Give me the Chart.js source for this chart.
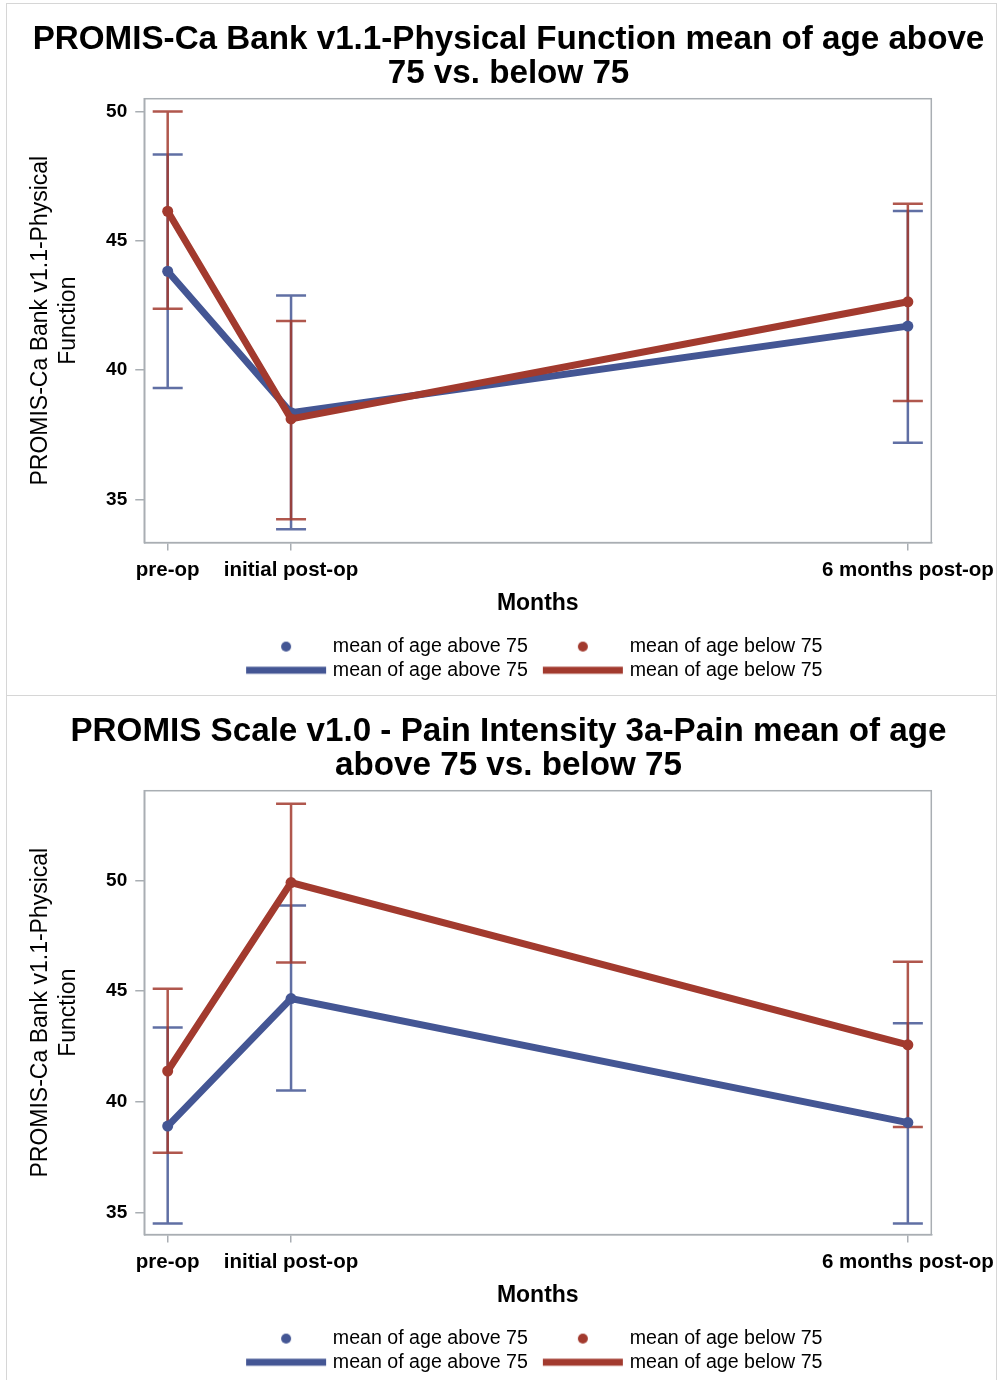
<!DOCTYPE html>
<html>
<head>
<meta charset="utf-8">
<script src="https://cdn.jsdelivr.net/npm/chart.js@4"></script>
<style>
  body { margin: 0; background: #fff; overflow: hidden; }
  .panel { position: absolute; left: 6px; width: 991px; border: 1px solid #d6d6d6; box-sizing: border-box; background: #fff; overflow: hidden; }
  #p1 { top: 3px; height: 693px; }
  #p2 { top: 695px; height: 697px; }
  canvas { display: block; }
</style>
</head>
<body>
<div class="panel" id="p1"><canvas id="chart1" width="994" height="691"></canvas></div>
<div class="panel" id="p2"><canvas id="chart2" width="994" height="691"></canvas></div>
<script>
// x positions are months after surgery
const months = [0, 1, 6];
const monthLabels = ['pre-op', 'initial post-op', '6 months post-op'];
const yTicks = [35, 40, 45, 50];

// Physical Function
const pfAbove = [43.82, 38.35, 41.70];
const pfAboveLow = [39.31, 33.85, 37.19];
const pfAboveHigh = [48.33, 42.88, 46.15];
const pfBelow = [46.14, 38.11, 42.64];
const pfBelowLow = [42.37, 34.23, 38.80];
const pfBelowHigh = [50.00, 41.90, 46.43];

// Pain Intensity
const painAbove = [38.90, 44.66, 39.06];
const painAboveLow = [34.50, 40.51, 34.50];
const painAboveHigh = [43.35, 48.86, 43.55];
const painBelow = [41.39, 49.90, 42.57];
const painBelowLow = [37.70, 46.29, 38.86];
const painBelowHigh = [45.10, 53.46, 46.33];

const BLUE = '#445694';
const RED = '#a23a2e';
const FONT = 'Liberation Sans, Arial, sans-serif';

// legend swatches (drawn as point style images)
function swatch(color, kind) {
  const c = document.createElement('canvas');
  c.width = 96; c.height = 12;
  const g = c.getContext('2d');
  g.fillStyle = color;
  if (kind === 'dot') {
    g.beginPath(); g.arc(55, 6, 5, 0, Math.PI * 2); g.fill();
  } else {
    g.fillRect(15, 2.5, 80, 7);
  }
  return c;
}

const errorBars = {
  id: 'errorBars',
  beforeDatasetsDraw(chart) {
    const {ctx, scales: {x, y}} = chart;
    ctx.save();
    chart.data.datasets.forEach(ds => {
      ctx.strokeStyle = ds.barColor;
      ctx.lineWidth = 2.5;
      ds.data.forEach((p, i) => {
        const px = x.getPixelForValue(p.x);
        const lo = y.getPixelForValue(ds.errLow[i]);
        const hi = y.getPixelForValue(ds.errHigh[i]);
        ctx.beginPath();
        ctx.moveTo(px, lo); ctx.lineTo(px, hi);
        ctx.moveTo(px - 15, lo); ctx.lineTo(px + 15, lo);
        ctx.moveTo(px - 15, hi); ctx.lineTo(px + 15, hi);
        ctx.stroke();
      });
    });
    ctx.restore();
  }
};

const plotFrame = {
  id: 'plotFrame',
  beforeDatasetsDraw(chart) {
    const {ctx, chartArea: a} = chart;
    ctx.save();
    ctx.strokeStyle = '#a9aeb3';
    ctx.lineWidth = 1.5;
    ctx.strokeRect(a.left, a.top, a.right - a.left, a.bottom - a.top);
    ctx.restore();
  }
};

// SAS centres the legend a little left of the plot centre
const legendShift = {
  id: 'legendShift',
  afterLayout(chart) {
    chart.legend.left -= 9;
    chart.legend.right -= 9;
  }
};

function pts(vals) {
  return months.map((m, i) => ({x: m, y: vals[i]}));
}

function makeChart(id, titleLines, above, aboveLow, aboveHigh, below, belowLow, belowHigh, yMin, yMax) {
  new Chart(document.getElementById(id), {
    type: 'line',
    data: {
      datasets: [
        {
          label: 'mean of age above 75',
          data: pts(above), errLow: aboveLow, errHigh: aboveHigh,
          borderColor: BLUE, backgroundColor: BLUE, barColor: 'rgba(68,86,148,0.85)',
          borderWidth: 7, pointRadius: 5.5, pointBorderWidth: 0, order: 2
        },
        {
          label: 'mean of age below 75',
          data: pts(below), errLow: belowLow, errHigh: belowHigh,
          borderColor: RED, backgroundColor: RED, barColor: 'rgba(162,58,46,0.85)',
          borderWidth: 7, pointRadius: 5.5, pointBorderWidth: 0, order: 1
        }
      ]
    },
    options: {
      responsive: false,
      animation: false,
      layout: { padding: { top: 0, left: 9, right: 0, bottom: 5 } },
      plugins: {
        title: {
          display: true, text: titleLines, color: '#000',
          font: { family: FONT, size: 33.2, weight: 'bold', lineHeight: 1.05 },
          padding: { top: 18, bottom: 7 }
        },
        legend: {
          position: 'bottom', fullSize: false,
          labels: {
            usePointStyle: true, pointStyleWidth: 88, padding: 4, color: '#222',
            font: { family: FONT, size: 19.6 },
            generateLabels: () => [
              { text: 'mean of age above 75', pointStyle: swatch(BLUE, 'dot'), fillStyle: BLUE, lineWidth: 0, hidden: false, datasetIndex: 0 },
              { text: 'mean of age below 75', pointStyle: swatch(RED, 'dot'), fillStyle: RED, lineWidth: 0, hidden: false, datasetIndex: 1 },
              { text: 'mean of age above 75', pointStyle: swatch(BLUE, 'line'), fillStyle: BLUE, lineWidth: 0, hidden: false, datasetIndex: 0 },
              { text: 'mean of age below 75', pointStyle: swatch(RED, 'line'), fillStyle: RED, lineWidth: 0, hidden: false, datasetIndex: 1 }
            ]
          }
        },
        tooltip: { enabled: false }
      },
      scales: {
        x: {
          type: 'linear', min: -0.19, max: 6.19,
          afterBuildTicks: s => { s.ticks = months.map(v => ({value: v})); },
          ticks: {
            autoSkip: false, maxRotation: 0, padding: 7, color: '#000',
            font: { family: FONT, size: 20.5, weight: 'bold' },
            callback: v => monthLabels[months.indexOf(v)]
          },
          grid: { drawOnChartArea: false, tickLength: 8, color: '#a9aeb3', lineWidth: 1.5 },
          border: { color: '#a9aeb3', width: 1.5 },
          title: {
            display: true, text: 'Months', color: '#000',
            font: { family: FONT, size: 23, weight: 'bold', lineHeight: 1.2 },
            padding: { top: 1, bottom: 15 }
          }
        },
        y: {
          min: yMin, max: yMax,
          afterBuildTicks: s => { s.ticks = yTicks.map(v => ({value: v})); },
          ticks: {
            padding: 8, color: '#000',
            font: { family: FONT, size: 19, weight: 'bold' }
          },
          grid: { drawOnChartArea: false, tickLength: 9, color: '#a9aeb3', lineWidth: 1.5 },
          border: { color: '#a9aeb3', width: 1.5 },
          title: {
            display: true, text: ['PROMIS-Ca Bank v1.1-Physical', 'Function'], color: '#000',
            font: { family: FONT, size: 23, lineHeight: 1.22 },
            padding: { top: 11, bottom: 15 }
          }
        }
      }
    },
    plugins: [plotFrame, errorBars, legendShift]
  });
}

makeChart('chart1',
  ['PROMIS-Ca Bank v1.1-Physical Function mean of age above', '75 vs. below 75'],
  pfAbove, pfAboveLow, pfAboveHigh, pfBelow, pfBelowLow, pfBelowHigh, 33.33, 50.49);

makeChart('chart2',
  ['PROMIS Scale v1.0 - Pain Intensity 3a-Pain mean of age', 'above 75 vs. below 75'],
  painAbove, painAboveLow, painAboveHigh, painBelow, painBelowLow, painBelowHigh, 34.0, 54.05);
</script>
</body>
</html>
